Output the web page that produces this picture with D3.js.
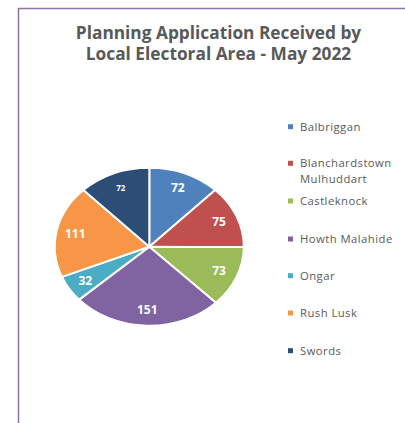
<!DOCTYPE html>
<html>
<head>
<meta charset="utf-8">
<script src="https://cdn.jsdelivr.net/npm/d3@7"></script>
<style>
  body { margin: 0; background: #fff; }
  svg { display: block; font-family: "Open Sans", sans-serif; }
</style>
</head>
<body>
<div id="chart"></div>
<script>
const areas = ['Balbriggan', 'Blanchardstown Mulhuddart', 'Castleknock', 'Howth Malahide', 'Ongar', 'Rush Lusk', 'Swords'];
const applications = [72, 75, 73, 151, 32, 111, 72];
const colours = ['#4f81bd', '#c0504d', '#9bbb59', '#8064a2', '#4bacc6', '#f79646', '#2c4d75'];
const titleLines = ['Planning Application Received by', 'Local Electoral Area - May 2022'];

const width = 405, height = 423;
const cx = 149.3, cy = 246.7, rx = 94.5, ry = 79;

const svg = d3.select('#chart').append('svg')
    .attr('width', width)
    .attr('height', height);

// frame (left and top edge of the chart box)
svg.append('path')
    .attr('d', `M18.5,${height} L18.5,8.5 L${width},8.5`)
    .attr('fill', 'none')
    .attr('stroke', '#9370a3')
    .attr('stroke-width', 1.5);

// title
svg.append('g').selectAll('text')
    .data(titleLines)
    .join('text')
    .attr('x', 218.5)
    .attr('y', (d, i) => 39 + i * 21)
    .attr('text-anchor', 'middle')
    .attr('font-size', 17.3)
    .attr('font-weight', 'bold')
    .attr('fill', '#595959')
    .text(d => d);

const pie = d3.pie().sort(null);
const arcs = pie(applications);
const arc = d3.arc().innerRadius(0).outerRadius(ry);
const labelArc = d3.arc().innerRadius(ry * 0.8).outerRadius(ry * 0.8);

const pieG = svg.append('g')
    .attr('transform', `translate(${cx},${cy}) scale(${rx / ry},1)`);

pieG.selectAll('path')
    .data(arcs)
    .join('path')
    .attr('d', arc)
    .attr('fill', (d, i) => colours[i])
    .attr('stroke', '#fff')
    .attr('stroke-width', 2)
    .attr('vector-effect', 'non-scaling-stroke');

svg.append('g').selectAll('text')
    .data(arcs)
    .join('text')
    .attr('x', d => cx + labelArc.centroid(d)[0] * rx / ry)
    .attr('y', d => cy + labelArc.centroid(d)[1])
    .attr('dy', '0.35em')
    .attr('text-anchor', 'middle')
    .attr('font-size', (d, i) => i === 6 ? 8 : 12)
    .attr('font-weight', 'bold')
    .attr('fill', '#fff')
    .text(d => d.data);

// legend
const legendY = [126.7, 163.3, 201, 239, 275.7, 313, 350.7];
const legend = svg.append('g').selectAll('g')
    .data(areas)
    .join('g')
    .attr('transform', (d, i) => `translate(288,${legendY[i]})`);

legend.append('rect')
    .attr('x', 0)
    .attr('y', -2.5)
    .attr('width', 5)
    .attr('height', 5)
    .attr('fill', (d, i) => colours[i]);

legend.append('text')
    .attr('font-size', 11.3)
    .attr('letter-spacing', 0.45)
    .attr('fill', '#595959')
    .selectAll('tspan')
    .data(d => d.startsWith('Blanch') ? d.split(' ') : [d])
    .join('tspan')
    .attr('x', 12)
    .attr('y', (d, i) => i * 15.7)
    .attr('dy', '0.35em')
    .text(d => d);
</script>
</body>
</html>
